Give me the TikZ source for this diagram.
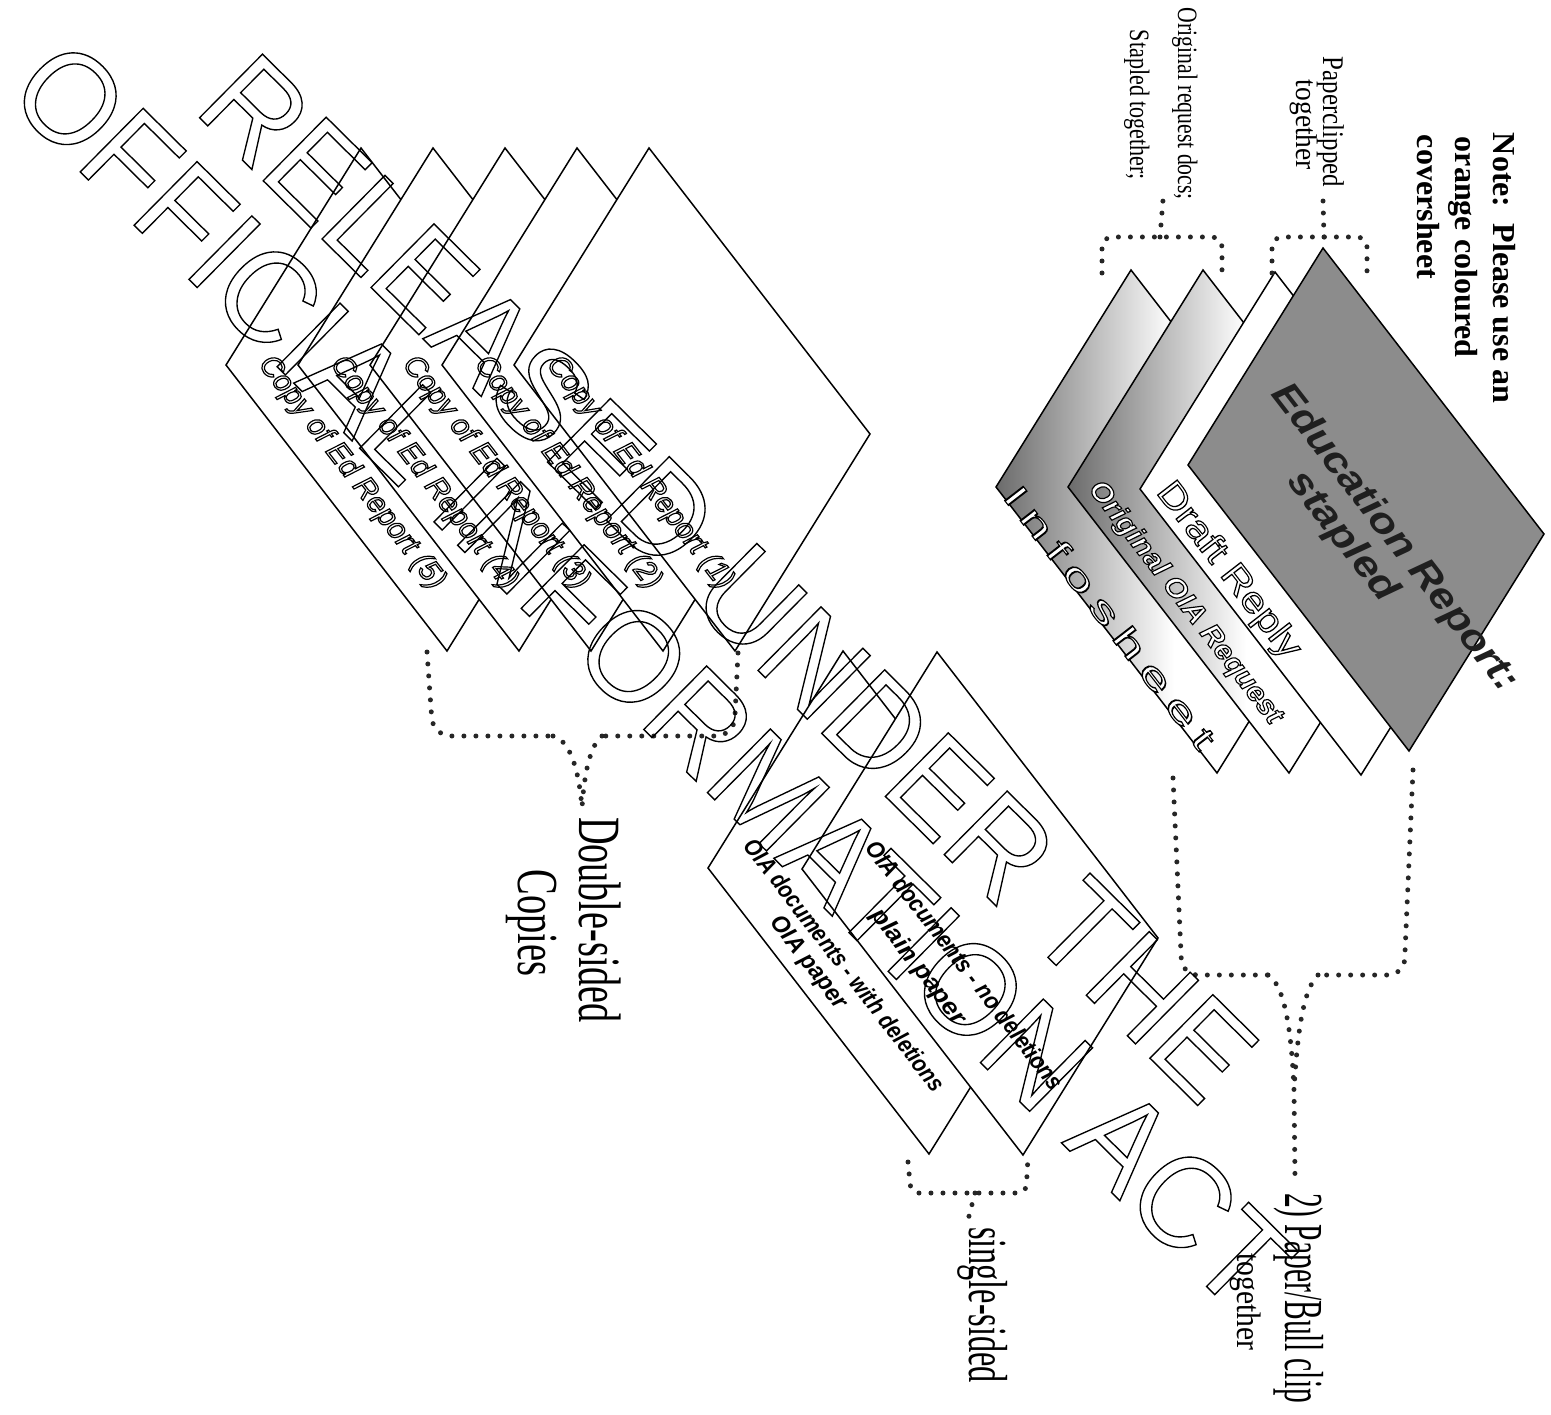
\documentclass[tikz,border=0pt]{standalone}
\usepackage{fontspec}
\setmainfont{Liberation Serif}
\newfontfamily\sansf{Liberation Sans}
\usepackage{graphicx}
\usetikzlibrary{calc}
\newcommand\fs[1]{\fontsize{#1}{#1}\selectfont}
\newcommand\fitw[2]{\resizebox{#1}{\height}{#2}}
\newcommand\strokeonly[2]{\special{pdf:literal direct 0 G #1 w 1 Tr}#2\special{pdf:literal direct 0 Tr}}
\newcommand\hollow[2]{\special{pdf:literal direct 0 G #1 w 2 Tr}#2\special{pdf:literal direct 0 Tr}}
\tikzset{
  sheet/.style={draw=black, line width=1.5pt, line join=miter, fill=white},
  dotline/.style={draw=black!85, line width=5pt, line cap=round, dash pattern=on 0pt off 12pt},
  lbl/.style={inner sep=0pt, outer sep=0pt},
  diag/.style={lbl, rotate=-52.3},
  vert/.style={lbl, rotate=-90, anchor=base},
  wmark/.style={lbl, rotate=-44.7, anchor=base},
  grad/.style={left color=black!58, right color=white, middle color=white},
}
\newcommand\sheet[4]{\path[sheet,#4] (#2,#3) coordinate (#1-T) -- ++(221,286) coordinate (#1-R) -- ++(-135,217) coordinate (#1-B) -- ++(-221,-286) coordinate (#1-L) -- cycle;}
\begin{document}
\begin{tikzpicture}[x=1pt,y=-1pt]
\path[use as bounding box, fill=white] (0,0) rectangle (1551,1415);

% ---- top group
\sheet{info}{1131}{270}{grad}
\node[diag, text=white] (tinfo) at (1110,617) {\fitw{323pt}{\sansf\fs{34}\addfontfeature{LetterSpace=18}\hollow{1.1}{Infosheet}}};
\sheet{oia}{1203}{270}{grad}
\node[diag, text=white] (toia) at (1185,603) {\fitw{299pt}{\sansf\bfseries\itshape\fs{28}\hollow{1.1}{Original OIA Request}}};
\sheet{draft}{1275}{272}{}
\node[diag, text=white] (tdraft) at (1228,571) {\fitw{213pt}{\sansf\fs{36}\hollow{1.1}{Draft Reply}}};
\sheet{edu}{1323}{248}{fill=black!45}
\node[diag, text=black!88] (tedu1) at (1394,538) {\fitw{379pt}{\sansf\bfseries\itshape\fs{38}Education Report:}};
\node[diag, text=black!88] (tedu2) at (1342,537) {\fitw{155pt}{\sansf\bfseries\itshape\fs{38}stapled}};

% ---- copies
\foreach \n/\x in {5/361,4/433,3/505,2/577,1/649}{
  \sheet{c\n}{\x}{148}{}
  \node[diag, text=white] (copy\n) at (\x-9.5,473) {\fitw{286pt}{\sansf\itshape\fs{30}\hollow{1.2}{Copy of Ed Report (\n)}}};
}

% ---- OIA documents
\sheet{docB}{843}{651}{}
\node[diag] (db1) at (845,965) {\fitw{312pt}{\sansf\bfseries\itshape\fs{24}OIA documents - with deletions}};
\node[diag] (db2) at (808,963) {\fitw{111pt}{\sansf\bfseries\itshape\fs{24}OIA paper}};
\sheet{docA}{937}{652}{}
\node[diag] (da1) at (965,965) {\fitw{307pt}{\sansf\bfseries\itshape\fs{24}OIA documents - no deletions}};
\node[diag] (da2) at (918,967) {\fitw{140pt}{\sansf\bfseries\itshape\fs{24}plain paper}};

% ---- dotted brackets
\draw[dotline, rounded corners=10pt] (1102,273) -- (1102,237) -- (1222,237) -- (1222,273);
\draw[dotline] (1160,237) -- (1163,200);
\draw[dotline, rounded corners=10pt] (1272,273) -- (1272,237) -- (1367,237) -- (1367,273);
\draw[dotline] (1324,237) -- (1323,200);
\draw[dotline, rounded corners=16pt] (1173,778) -- (1182,975) -- (1268,975);
\draw[dotline] (1268,975) .. controls (1286,985) and (1292,1040) .. (1294,1090) -- (1295,1178);
\draw[dotline, rounded corners=16pt] (1413,770) -- (1404,975) -- (1318,975);
\draw[dotline] (1318,975) .. controls (1302,990) and (1297,1040) .. (1294,1090);
\draw[dotline, rounded corners=18pt] (427,652) -- (433,736) -- (553,736);
\draw[dotline] (553,736) .. controls (570,740) and (579,770) .. (582,808);
\draw[dotline, rounded corners=18pt] (738,653) -- (734,736) -- (602,736);
\draw[dotline] (602,736) .. controls (590,745) and (584,775) .. (582,808);
\draw[dotline, rounded corners=8pt] (908,1162) -- (911,1193) -- (1026,1193) -- (1028,1157);
\draw[dotline] (975,1193) -- (968,1220);

% ---- vertical labels
\node[vert, anchor=base west] (note1) at (1493,133) {\bfseries\fs{32}Note:\ \ Please use an};
\node[vert, anchor=base west] (note2) at (1455,137) {\bfseries\fs{32}orange coloured};
\node[vert, anchor=base west] (note3) at (1417,135) {\bfseries\fs{32}coversheet};
\node[vert] (pc1) at (1323,122) {\fitw{130pt}{\fs{30}Paperclipped}};
\node[vert] (pc2) at (1296,125) {\fitw{90pt}{\fs{30}together}};
\node[vert] (or1) at (1178,104) {\fitw{192pt}{\fs{28}Original request docs;}};
\node[vert] (or2) at (1130,105) {\fitw{150pt}{\fs{28}Stapled together;}};
\node[vert] (ds1) at (579,920) {\fitw{206pt}{\fs{60}Double-sided}};
\node[vert] (ds2) at (518,923) {\fitw{107pt}{\fs{58}Copies}};
\node[vert] (ss) at (969,1305) {\fitw{156pt}{\fs{55}single-sided}};
\node[vert] (pb1) at (1285,1298) {\fitw{210pt}{\fs{55}2) Paper/Bull clip}};
\node[vert] (pb2) at (1237,1302) {\fitw{97pt}{\fs{34}together}};

% ---- watermark
\node[wmark] (wm1) at (697,610) {\fitw{1420pt}{\sansf\fs{130}\strokeonly{1.4}{RELEASED UNDER THE}}};
\node[wmark] (wm2) at (621,707) {\fitw{1735pt}{\sansf\fs{130}\strokeonly{1.4}{OFFICIAL INFORMATION ACT}}};
\end{tikzpicture}
\end{document}
